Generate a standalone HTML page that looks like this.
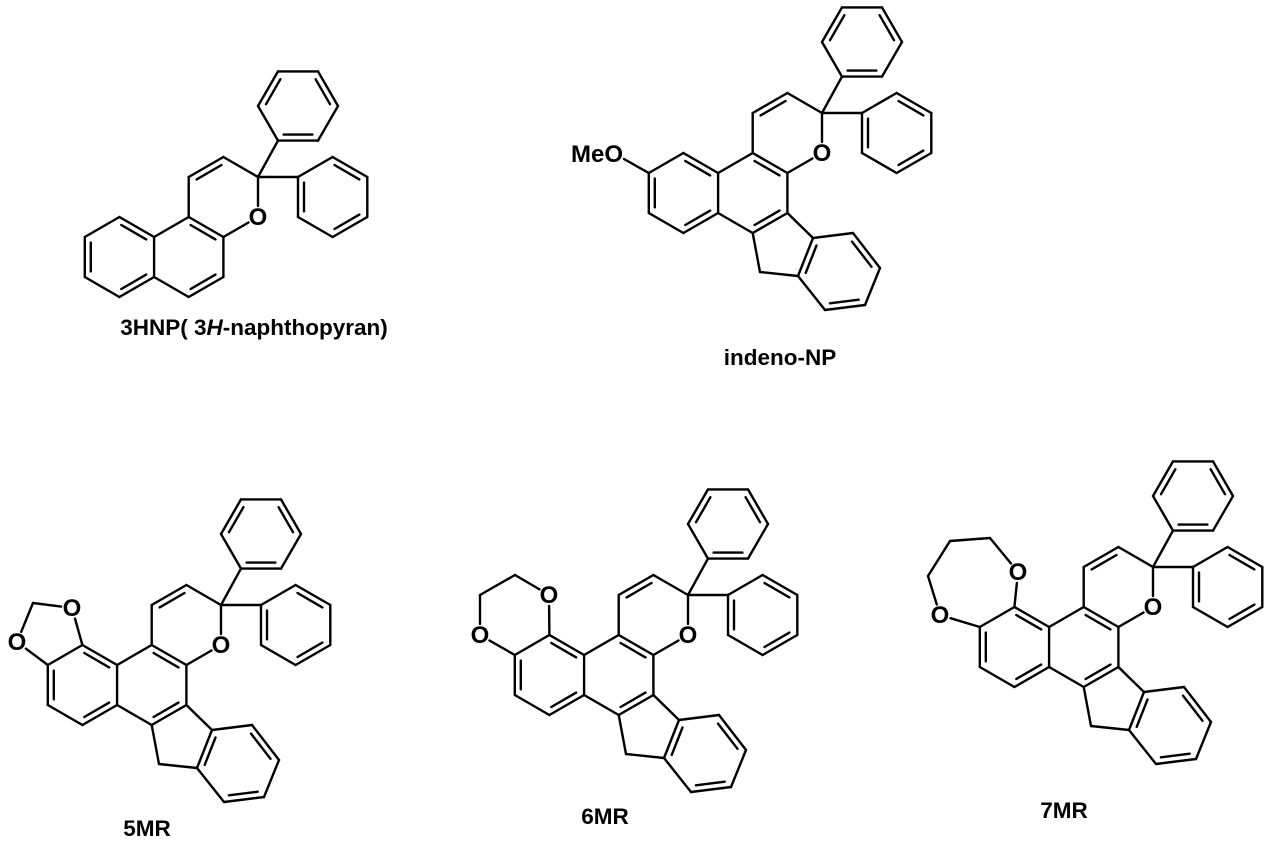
<!DOCTYPE html>
<html><head><meta charset="utf-8"><style>
html,body{margin:0;padding:0;background:#fff;}
svg{display:block}
.o{font:bold 24px "Liberation Sans",sans-serif;text-anchor:middle;fill:#000}
.lb{font:bold 22.5px "Liberation Sans",sans-serif;text-anchor:middle;fill:#000}
</style></head><body>
<svg id="s" width="1269" height="847" viewBox="0 0 1269 847" xmlns="http://www.w3.org/2000/svg">
<g id="lines" stroke="#000" stroke-width="2.4" stroke-linecap="round" fill="none"></g>
<text class="o" x="258" y="225">O</text>
<text class="o" x="822" y="161">O</text>
<text x="623" y="162" style="font:bold 24px 'Liberation Sans',sans-serif;text-anchor:end">MeO</text>
<text class="o" x="221" y="653">O</text>
<text class="o" x="72" y="616">O</text>
<text class="o" x="17" y="650">O</text>
<text class="o" x="688" y="643">O</text>
<text class="o" x="549" y="603">O</text>
<text class="o" x="480" y="643">O</text>
<text class="o" x="1153" y="615">O</text>
<text class="o" x="1018" y="580">O</text>
<text class="o" x="940" y="623">O</text>
<text class="lb" x="254" y="335">3HNP( 3<tspan font-style="italic">H</tspan>-naphthopyran)</text>
<text class="lb" x="780" y="365">indeno-NP</text>
<text class="lb" x="147" y="836">5MR</text>
<text class="lb" x="605" y="824">6MR</text>
<text class="lb" x="1064" y="818">7MR</text>
</svg>
<script>
(function(){
var g=document.getElementById('lines'),NS='http://www.w3.org/2000/svg';
function ln(x1,y1,x2,y2){var l=document.createElementNS(NS,'line');l.setAttribute('x1',x1.toFixed(1));l.setAttribute('y1',y1.toFixed(1));l.setAttribute('x2',x2.toFixed(1));l.setAttribute('y2',y2.toFixed(1));g.appendChild(l);}
var H=34.64;
function mol(cx,cy,indeno,extra){
  function A(p){return [cx+p[0],cy+p[1]];}
  function bond(p,q,o1,o2){var a=A(p),b=A(q);var dx=b[0]-a[0],dy=b[1]-a[1],L=Math.hypot(dx,dy),ux=dx/L,uy=dy/L;
    if(o1){a=[a[0]+ux*11,a[1]+uy*11];} if(o2){b=[b[0]-ux*11,b[1]-uy*11];} ln(a[0],a[1],b[0],b[1]);}
  function dbl(p,q,c){bond(p,q);var a=A(p),b=A(q),C=A(c);var dx=b[0]-a[0],dy=b[1]-a[1],L=Math.hypot(dx,dy);
    var nx=-dy/L,ny=dx/L;var mx=(a[0]+b[0])/2,my=(a[1]+b[1])/2;if((C[0]-mx)*nx+(C[1]-my)*ny<0){nx=-nx;ny=-ny;}
    var o=6,s=0.14;ln(a[0]+dx*s+nx*o,a[1]+dy*s+ny*o,b[0]-dx*s+nx*o,b[1]-dy*s+ny*o);}
  var Cq=[0,0],v5=[-2*H,0],v0=[-H,-20],O=[0,40],a=[-H,60],b=[-2*H,40],c=[-H,100],d=[-2*H,120],e=[-3*H,100],f=[-3*H,60],
      L0=[-4*H,40],L2=[-4*H,120],L4=[-5*H,100],L5=[-5*H,60];
  dbl(v5,v0,[-H,20]);bond(v0,Cq);bond(Cq,O,0,1);bond(O,a,1,0);bond(b,v5);
  var cc=[-2*H,80];dbl(b,a,cc);bond(a,c);dbl(c,d,cc);bond(d,e);bond(e,f);bond(f,b);
  var lc=[-4*H,80];dbl(f,L0,lc);bond(L0,L5);dbl(L5,L4,lc);bond(L4,L2);dbl(L2,e,lc);
  var p0=[20,-71+H],p1=[0,-71],p2=[20,-71-H],p3=[60,-71-H],p4=[80,-71],p5=[60,-71+H],pc=[40,-71];
  bond(Cq,p0);bond(p0,p1);dbl(p1,p2,pc);bond(p2,p3);dbl(p3,p4,pc);bond(p4,p5);dbl(p5,p0,pc);
  var q0=[40,0],q1=[40+H,-20],q2=[40+2*H,0],q3=[40+2*H,40],q4=[40+H,60],q5=[40,40],qc=[40+H,20];
  bond(Cq,q0);dbl(q1,q2,qc);bond(q0,q1);bond(q2,q3);dbl(q3,q4,qc);bond(q4,q5);dbl(q5,q0,qc);
  if(indeno){var gg=[-62,159],h=[-24,163],i=[-9,125],j=[31,120],k=[58,155],l=[43,192],m=[3,197],ic=[17,159];
    bond(d,gg);bond(gg,h);bond(i,c);dbl(h,i,ic);bond(i,j);dbl(j,k,ic);bond(k,l);dbl(l,m,ic);bond(m,h);}
  if(extra){for(var n=0;n<extra.length;n++){var E=extra[n];bond(E[0],E[1],E[2],E[3]);}}
}
mol(258,177,false,null);
var H5=[-5*H,60],T=[-4*H,40];
mol(822,113,true,[[H5,[-198,46],0,0]]);
mol(221,605,true,[[T,[-149,3],0,1],[[-149,3],[-188,-2],1,0],[[-188,-2],[-204,37],0,1],[[-204,37],H5,1,0]]);
mol(688,595,true,[[T,[-139,0],0,1],[[-139,0],[-173,-20],1,0],[[-173,-20],[-208,0],0,0],[[-208,0],[-208,40],0,1],[[-208,40],H5,1,0]]);
mol(1153,567,true,[[T,[-135,5],0,1],[[-135,5],[-163,-29],1,0],[[-163,-29],[-203,-26],0,0],[[-203,-26],[-225,9],0,0],[[-225,9],[-213,48],0,1],[[-213,48],H5,1,0]]);
})();
</script>
</body></html>
